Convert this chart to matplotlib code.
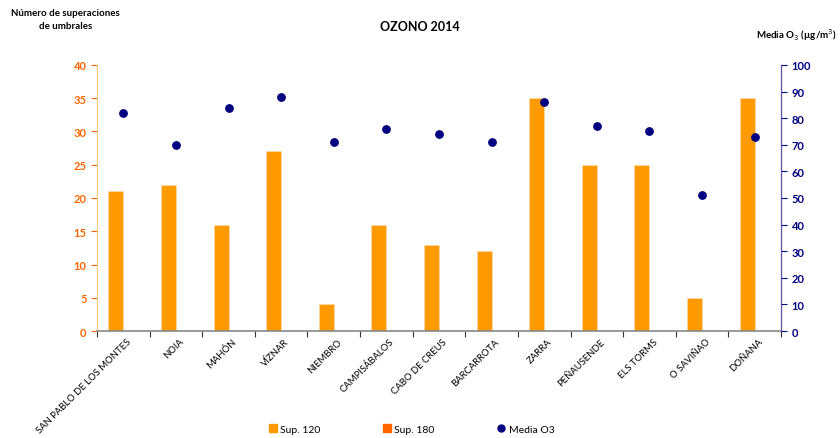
import matplotlib
matplotlib.use('Agg')
from matplotlib import pyplot as plt
from matplotlib.lines import Line2D
from matplotlib.patches import Patch
import numpy as np

plt.rcParams['font.family'] = ['Lato', 'DejaVu Sans']

stations = ['SAN PABLO DE LOS MONTES', 'NOIA', 'MAHÓN', 'VÍZNAR', 'NIEMBRO',
            'CAMPISÁBALOS', 'CABO DE CREUS', 'BARCARROTA', 'ZARRA',
            'PEÑAUSENDE', 'ELS TORMS', 'O SAVIÑAO', 'DOÑANA']
sup_120 = [21, 22, 16, 27, 4, 16, 13, 12, 35, 25, 25, 5, 35]
sup_180 = [0, 0, 0, 0, 0, 0, 0, 0, 0, 0, 0, 0, 0]
media_o3 = [82, 70, 84, 88, 71, 76, 74, 71, 86, 77, 75, 51, 73]

orange = '#FF9900'
dark_orange = '#FF6600'
navy = '#000080'

fig = plt.figure(figsize=(8.4, 4.39), dpi=100)
ax = fig.add_axes([0.1155, 0.2437, 0.8143, 0.606])
x = np.arange(len(stations))
w = 0.285

ax.bar(x - w / 2, sup_120, w, color=orange, edgecolor='#FFD9A0', linewidth=0.6, zorder=2)
ax.bar(x + w / 2, sup_180, w, color=dark_orange, zorder=2)
ax.set_xlim(-0.5, len(stations) - 0.5)
ax.set_ylim(0, 40)
ax.set_yticks(range(0, 41, 5))
ax.tick_params(axis='y', colors=dark_orange, labelsize=8, length=4, width=0.8)
for t in ax.get_yticklabels():
    t.set_fontweight('bold')
ax.set_xticks(x + 0.06)
ax.set_xticklabels(stations, rotation=45, ha='right', rotation_mode='anchor', fontsize=6.8)
ax.tick_params(axis='x', length=0, pad=4)
ax.set_xticks(np.arange(-0.5, len(stations)), minor=True)
ax.tick_params(axis='x', which='minor', length=4, width=0.8, color='#333333')

ax.spines['top'].set_visible(False)
ax.spines['left'].set_color('#FFC470')
ax.spines['bottom'].set_color('#888888')
ax.spines['bottom'].set_linewidth(1.2)

ax2 = ax.twinx()
ax2.scatter(x, media_o3, s=28, color=navy, zorder=3)
ax2.set_ylim(0, 100)
ax2.set_yticks(range(0, 101, 10))
ax2.tick_params(axis='y', colors=navy, labelsize=8, length=4, width=0.8)
for t in ax2.get_yticklabels():
    t.set_fontweight('bold')
ax2.spines['top'].set_visible(False)
ax2.spines['left'].set_visible(False)
ax2.spines['bottom'].set_visible(False)
ax2.spines['right'].set_color('#5555AA')

fig.text(0.5, 0.938, 'OZONO 2014', ha='center', va='center', fontsize=9, fontweight='bold')
fig.text(0.078, 0.955, 'Número de superaciones\nde umbrales', ha='center', va='center',
         fontsize=7, fontweight='bold', linespacing=1.5)
fig.text(0.948, 0.92, 'Media O$_3$ (µg/m$^3$)', ha='center', va='center',
         fontsize=7, fontweight='bold')

handles = [Patch(color=orange, label='Sup. 120'),
           Patch(color=dark_orange, label='Sup. 180'),
           Line2D([], [], marker='o', linestyle='', color=navy, markersize=5, label='Media O3')]
fig.legend(handles=handles, loc='center', bbox_to_anchor=(0.49, 0.02), ncol=3,
           frameon=False, fontsize=7.5, handlelength=0.8, handleheight=0.8,
           columnspacing=6, handletextpad=0.3)

fig.savefig('out.png', dpi=100)
